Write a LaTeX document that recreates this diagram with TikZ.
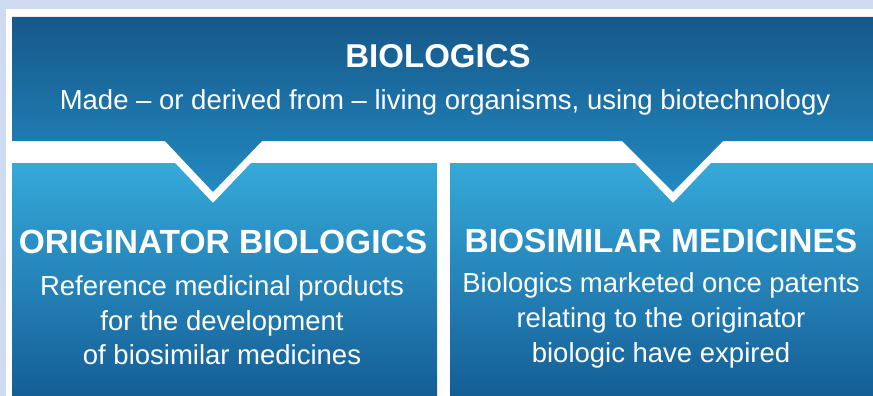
\documentclass[tikz,border=0pt]{standalone}
\usepackage{fontspec}
\setmainfont{Liberation Sans}
\definecolor{lavender}{RGB}{207,219,240}
\definecolor{bannertop}{RGB}{22,88,138}
\definecolor{bannerbot}{RGB}{34,138,193}
\definecolor{boxtop}{RGB}{54,169,218}
\definecolor{boxbot}{RGB}{20,94,150}
\begin{document}
\begin{tikzpicture}[x=1pt,y=-1pt,
  heading/.style={text=white,inner sep=0pt,anchor=base,font=\fontsize{33.5}{33.5}\selectfont\bfseries},
  blurb/.style={text=white,inner sep=0pt,anchor=base,font=\fontsize{27.5}{27.5}\selectfont}]
\useasboundingbox (0,0) rectangle (873,396);
\fill[lavender] (0,0) rectangle (873,396);
\fill[white] (6,9) rectangle (873,396);
% banner with two notches
\shade[top color=bannertop,bottom color=bannerbot]
  (12,17) -- (873,17) -- (873,141) -- (723,141) -- (673,192) -- (622,141)
  -- (262,141) -- (213,192) -- (165,141) -- (12,141) -- cycle;
% lower boxes
\shade[top color=boxtop,bottom color=boxbot]
  (12,163) -- (175,163) -- (213,203) -- (251,163) -- (437,163) -- (437,396) -- (12,396) -- cycle;
\shade[top color=boxtop,bottom color=boxbot]
  (450,163) -- (635,163) -- (673,203) -- (711,163) -- (873,163) -- (873,396) -- (450,396) -- cycle;
% texts
\node[heading,font=\fontsize{33}{33}\selectfont\bfseries] (bio) at (438,67) {BIOLOGICS};
\node[blurb] (made) at (445,110) {Made – or derived from – living organisms, using biotechnology};
\node[heading] (orig) at (223,253) {ORIGINATOR BIOLOGICS};
\node[blurb] (ref1) at (222,295) {Reference medicinal products};
\node[blurb] (ref2) at (222,330) {for the development};
\node[blurb] (ref3) at (222,364) {of biosimilar medicines};
\node[heading] (bsim) at (661,252) {BIOSIMILAR MEDICINES};
\node[blurb] (bs1) at (661,292) {Biologics marketed once patents};
\node[blurb] (bs2) at (661,327) {relating to the originator};
\node[blurb] (bs3) at (661,362) {biologic have expired};
\end{tikzpicture}
\end{document}
